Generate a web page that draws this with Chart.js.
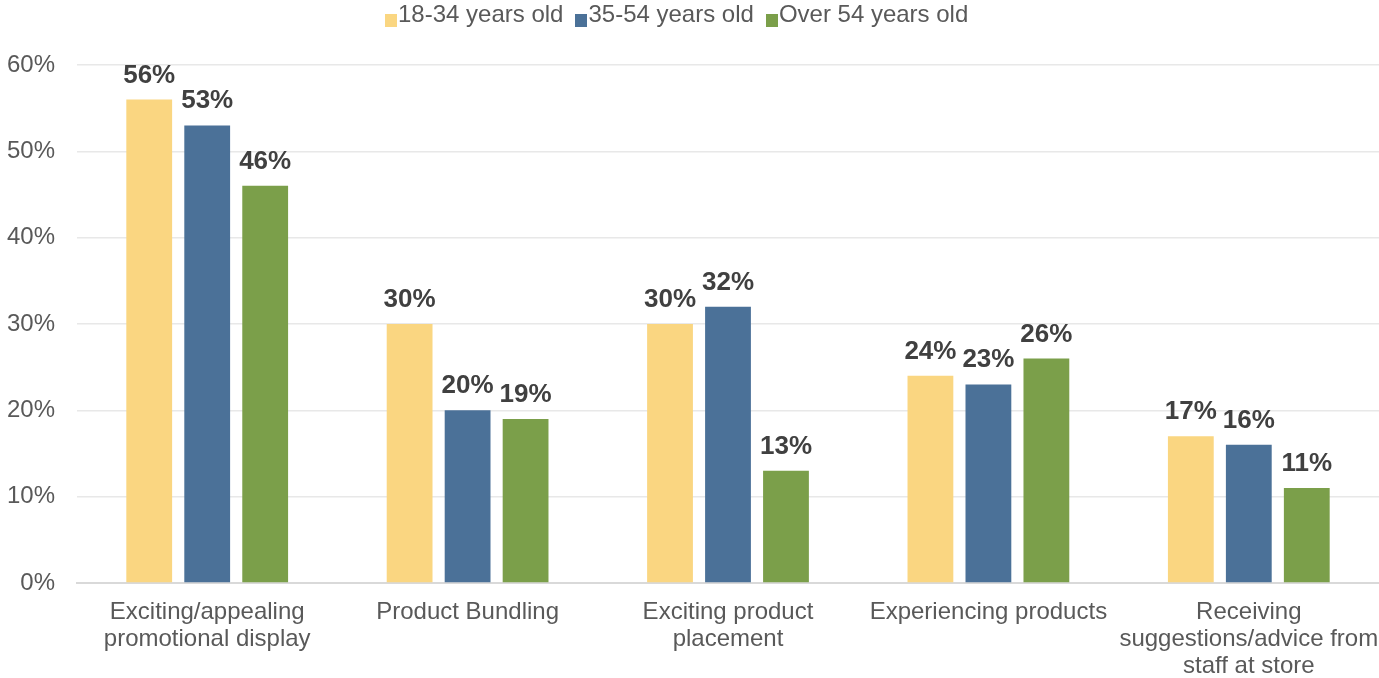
<!DOCTYPE html>
<html>
<head>
<meta charset="utf-8">
<script src="https://cdn.jsdelivr.net/npm/chart.js@4"></script>
<style>
  body { margin: 0; background: #fff; }
  #wrap { position: relative; width: 1379px; height: 678px; }
  #legend {
    position: absolute; left: 385px; top: 0; height: 27px;
    display: flex; align-items: center;
    font: 24px 'Liberation Sans', Arial, sans-serif; color: #595959;
  }
  #legend .item { display: flex; align-items: center; margin-right: 12px; white-space: nowrap; }
  #legend .box { width: 12px; height: 13px; margin-right: 1px; margin-top: 14px; }
</style>
</head>
<body>
<div id="wrap">
  <canvas id="chart" width="1379" height="678"></canvas>
  <div id="legend"></div>
</div>
<script>
const categories = [
    ["Exciting/appealing", "promotional display"],
    "Product Bundling",
    ["Exciting product", "placement"],
    "Experiencing products",
    ["Receiving", "suggestions/advice from", "staff at store"]
];
const young = [56, 30, 30, 24, 17];
const middle = [53, 20, 32, 23, 16];
const older = [46, 19, 13, 26, 11];
const yTicks = [0, 10, 20, 30, 40, 50, 60];

const FONT = "'Liberation Sans', Arial, sans-serif";

// value labels above each bar
const barLabels = {
    id: "barLabels",
    afterDatasetsDraw(chart) {
        const ctx = chart.ctx;
        ctx.save();
        ctx.font = "bold 26px " + FONT;
        ctx.fillStyle = "#404040";
        ctx.textAlign = "center";
        ctx.textBaseline = "alphabetic";
        chart.data.datasets.forEach((ds, i) => {
            chart.getDatasetMeta(i).data.forEach((bar, j) => {
                ctx.fillText(ds.data[j] + "%", bar.x, bar.y - 17);
            });
        });
        ctx.restore();
    }
};

const chart = new Chart(document.getElementById("chart"), {
    type: "bar",
    data: {
        labels: categories,
        datasets: [
            { label: "18-34 years old", data: young, backgroundColor: "#FAD681" },
            { label: "35-54 years old", data: middle, backgroundColor: "#4B7198" },
            { label: "Over 54 years old", data: older, backgroundColor: "#7B9F4A" }
        ]
    },
    options: {
        responsive: false,
        animation: false,
        layout: { padding: { left: 7, right: 0, top: 65, bottom: 0 } },
        datasets: {
            bar: { categoryPercentage: 0.668, barPercentage: 0.79 }
        },
        plugins: {
            tooltip: { enabled: false },
            legend: { display: false }
        },
        scales: {
            x: {
                grid: { display: false, drawTicks: false },
                border: { color: "#d9d9d9", width: 2 },
                ticks: {
                    color: "#595959",
                    font: { family: FONT, size: 24, lineHeight: 1.13 },
                    padding: 16,
                    maxRotation: 0,
                    autoSkip: false
                },
                afterFit(scale) {
                    scale.height = 95;
                    scale.paddingLeft = 0;
                    scale.paddingRight = 0;
                }
            },
            y: {
                min: 0,
                max: 60,
                afterBuildTicks(scale) {
                    scale.ticks = yTicks.map(v => ({ value: v }));
                },
                grid: { color: "#e8e8e8", lineWidth: 1.5, drawTicks: false },
                border: { display: false },
                ticks: {
                    color: "#595959",
                    font: { family: FONT, size: 24 },
                    padding: 22,
                    callback: v => v + "%"
                },
                afterFit(scale) {
                    scale.width = 70;
                }
            }
        }
    },
    plugins: [barLabels]
});

// legend built from the datasets
const legend = document.getElementById("legend");
chart.data.datasets.forEach(ds => {
    const item = document.createElement("div");
    item.className = "item";
    item.innerHTML = `<span class="box" style="background:${ds.backgroundColor}"></span><span>${ds.label}</span>`;
    legend.appendChild(item);
});
</script>
</body>
</html>
